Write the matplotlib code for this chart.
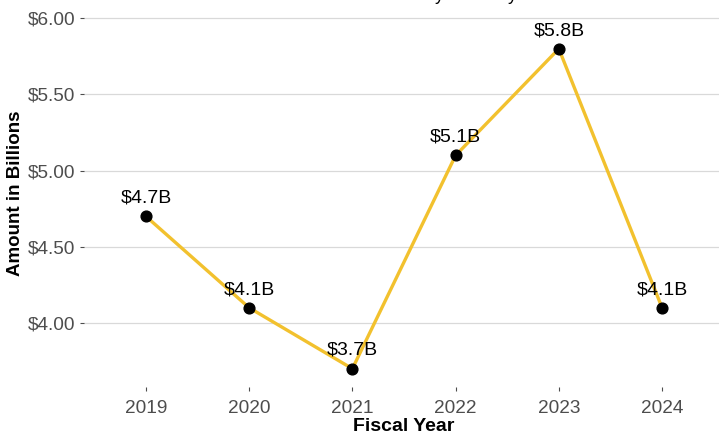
import matplotlib.pyplot as plt

years = [2019, 2020, 2021, 2022, 2023, 2024]
amounts = [4.7, 4.1, 3.7, 5.1, 5.8, 4.1]
labels = ['$4.7B', '$4.1B', '$3.7B', '$5.1B', '$5.8B', '$4.1B']
y_ticks = [4.0, 4.5, 5.0, 5.5, 6.0]

plt.rcParams['font.family'] = ['Liberation Sans', 'DejaVu Sans']

fig = plt.figure(figsize=(7.19, 4.36), dpi=100)
ax = fig.add_axes([84 / 719, 49 / 436, 640 / 719, 387 / 436])

# grid lines like ggplot minimal theme
for t in y_ticks:
    ax.axhline(t, color='#D9D9D9', lw=0.9, zorder=0)

ax.plot(years, amounts, color='#F2C12E', lw=2.4, zorder=2)
ax.scatter(years, amounts, color='black', s=60, zorder=3)

for x, y, lab in zip(years, amounts, labels):
    ax.annotate(lab, (x, y), xytext=(0, 7), textcoords='offset points',
                ha='center', va='bottom', fontsize=14, color='black')

ax.set_xlim(2018.4, 2024.6)
ax.set_ylim(3.58, 6.12)
ax.set_xticks(years)
ax.set_xticklabels([str(y) for y in years])
ax.set_yticks(y_ticks)
ax.set_yticklabels(['$%.2f' % t for t in y_ticks])
ax.tick_params(colors='#4D4D4D', labelsize=13.7, length=3, width=0.8, pad=3)
ax.tick_params(axis='x', pad=6)
for s in ax.spines.values():
    s.set_visible(False)

ax.set_xlabel('Fiscal Year', fontsize=14, fontweight='bold', labelpad=1)
ax.set_ylabel('Amount in Billions', fontsize=13.5, fontweight='bold', labelpad=3)

# title sits almost entirely above the visible area (only descenders show)
fig.text(413 / 719, 1.0 + 0.5 / 436, 'Payments by Fiscal Year', ha='left',
         va='baseline', fontsize=13)

fig.savefig('out.png', dpi=100)
